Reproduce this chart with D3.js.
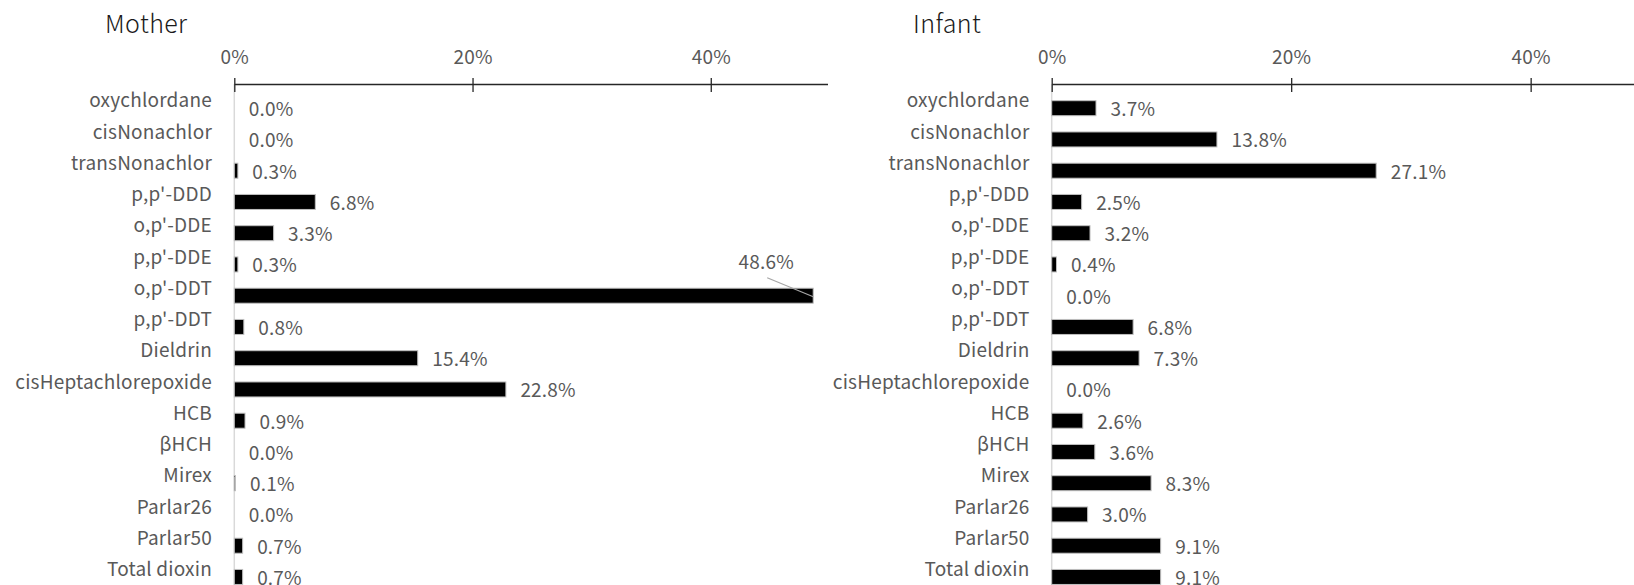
<!DOCTYPE html>
<html><head><meta charset="utf-8">
<script src="https://cdn.jsdelivr.net/npm/d3@7"></script>
<style>
html,body{margin:0;padding:0;background:#fff;}
svg{display:block;}
text{font-family:"Noto Sans CJK JP","Noto Sans",sans-serif;}
</style></head>
<body>
<svg id="chart" width="1634" height="585"></svg>
<script>
const categories = ["oxychlordane","cisNonachlor","transNonachlor","p,p'-DDD","o,p'-DDE","p,p'-DDE","o,p'-DDT","p,p'-DDT","Dieldrin","cisHeptachlorepoxide","HCB","βHCH","Mirex","Parlar26","Parlar50","Total dioxin"];
const motherValues = [0.0,0.0,0.3,6.8,3.3,0.3,48.6,0.8,15.4,22.8,0.9,0.0,0.1,0.0,0.7,0.7];
const infantValues = [3.7,13.8,27.1,2.5,3.2,0.4,0.0,6.8,7.3,0.0,2.6,3.6,8.3,3.0,9.1,9.1];
const tickValues = [0,20,40];
const panelTitles = ["Mother","Infant"];

const svg = d3.select("#chart");
const TXT = "#595959";

function panel(title, values, x0, x1, titleX, labelRight, leaderIndex){
  const x = d3.scaleLinear().domain([0,49.8]).range([x0,x1]);
  const y = d3.scalePoint().domain(categories).range([108.2, 108.2+15*31.25]);
  const g = svg.append("g");
  const axisY = 84;

  g.append("text").attr("x",titleX).attr("y",33).text(title)
    .attr("font-size",25).attr("font-weight",300).attr("letter-spacing",0.4).attr("fill","#1a1a1a");

  g.append("line").attr("x1",x(0)).attr("x2",x(0)).attr("y1",axisY).attr("y2",585)
    .attr("stroke","#d9d9d9").attr("stroke-width",1.5);

  const ax = g.append("g").attr("transform",`translate(0,${axisY})`)
    .call(d3.axisTop(x).tickValues(tickValues).tickFormat(d=>d+"%").tickSizeOuter(0));
  ax.select(".domain").attr("stroke","#262626").attr("stroke-width",1.3);
  ax.selectAll(".tick line").attr("y1",8).attr("y2",-6).attr("stroke","#262626").attr("stroke-width",1.3);
  ax.selectAll(".tick text").attr("y",-27).attr("dy","0.35em")
    .attr("font-size",19).attr("letter-spacing",0.2).attr("fill",TXT).attr("font-family",null);

  g.selectAll(".cat").data(categories).join("text")
    .attr("x",labelRight).attr("y",d=>y(d)-7.7).attr("dy","0.36em")
    .attr("text-anchor","end").attr("font-size",19).attr("letter-spacing",0.2)
    .attr("fill",TXT).text(d=>d);

  g.selectAll(".bar").data(values).join("rect")
    .attr("x",x(0)).attr("y",(d,i)=>y(categories[i])-7.5)
    .attr("width",d=>x(d)-x(0)).attr("height",15)
    .attr("fill","#000").attr("stroke","#bfbfbf").attr("stroke-width",d=>d>0?1:0);

  values.forEach((v,i)=>{
    const cy = y(categories[i]);
    if(i===leaderIndex){
      g.append("line").attr("x1",x(v)-46).attr("y1",cy-18).attr("x2",x(v)).attr("y2",cy+1)
        .attr("stroke","#a6a6a6").attr("stroke-width",1.2);
      g.append("text").attr("x",x(v)-47).attr("y",cy-34).attr("dy","0.36em")
        .attr("text-anchor","middle").attr("font-size",19).attr("letter-spacing",0.2)
        .attr("fill",TXT).text(v.toFixed(1)+"%");
    } else {
      g.append("text").attr("x",x(v)+14.5).attr("y",cy+1.2).attr("dy","0.36em")
        .attr("font-size",19).attr("letter-spacing",0.2)
        .attr("fill",TXT).text(v.toFixed(1)+"%");
    }
  });
}

panel(panelTitles[0], motherValues, 234.3, 827.5, 105, 212, 6);
panel(panelTitles[1], infantValues, 1051.7, 1648, 913, 1029.5, -1);
</script>
</body></html>
